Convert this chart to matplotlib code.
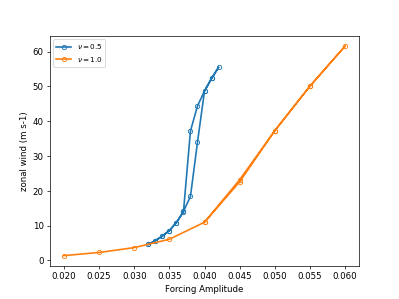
import matplotlib
matplotlib.use("Agg")
import matplotlib.pyplot as plt

# nu = 0.5 (forward then backward sweep)
x_05 = [0.032, 0.033, 0.034, 0.035, 0.036, 0.037, 0.038, 0.039, 0.040, 0.041, 0.042,
        0.041, 0.040, 0.039, 0.038, 0.037, 0.036, 0.035, 0.034, 0.033, 0.032]
y_05 = [4.6, 5.7, 7.0, 8.6, 10.9, 14.1, 18.4, 34.0, 48.7, 52.3, 55.5,
        52.3, 48.7, 44.4, 37.2, 13.9, 10.9, 8.6, 7.0, 5.7, 4.6]

# nu = 1.0
x_10 = [0.020, 0.025, 0.030, 0.035, 0.040, 0.045, 0.050, 0.055, 0.060,
        0.055, 0.050, 0.045, 0.040]
y_10 = [1.4, 2.3, 3.7, 6.1, 11.0, 22.6, 37.3, 50.1, 61.6,
        50.1, 37.3, 23.2, 11.0]

labels = [r"$\nu=0.5$", r"$\nu=1.0$"]

fig = plt.figure(figsize=(6.4, 4.8), dpi=62.35)
ax = fig.add_subplot(111)
ax.plot(x_05, y_05, marker="o", mfc="none", ms=5, lw=1.9, label=labels[0])
ax.plot(x_10, y_10, marker="o", mfc="none", ms=5, lw=1.9, label=labels[1])
ax.set_xlabel("Forcing Amplitude")
ax.set_ylabel("zonal wind (m s-1)")
ax.legend(loc="upper left", fontsize="small")
fig.savefig("out.png", dpi=62.35)
